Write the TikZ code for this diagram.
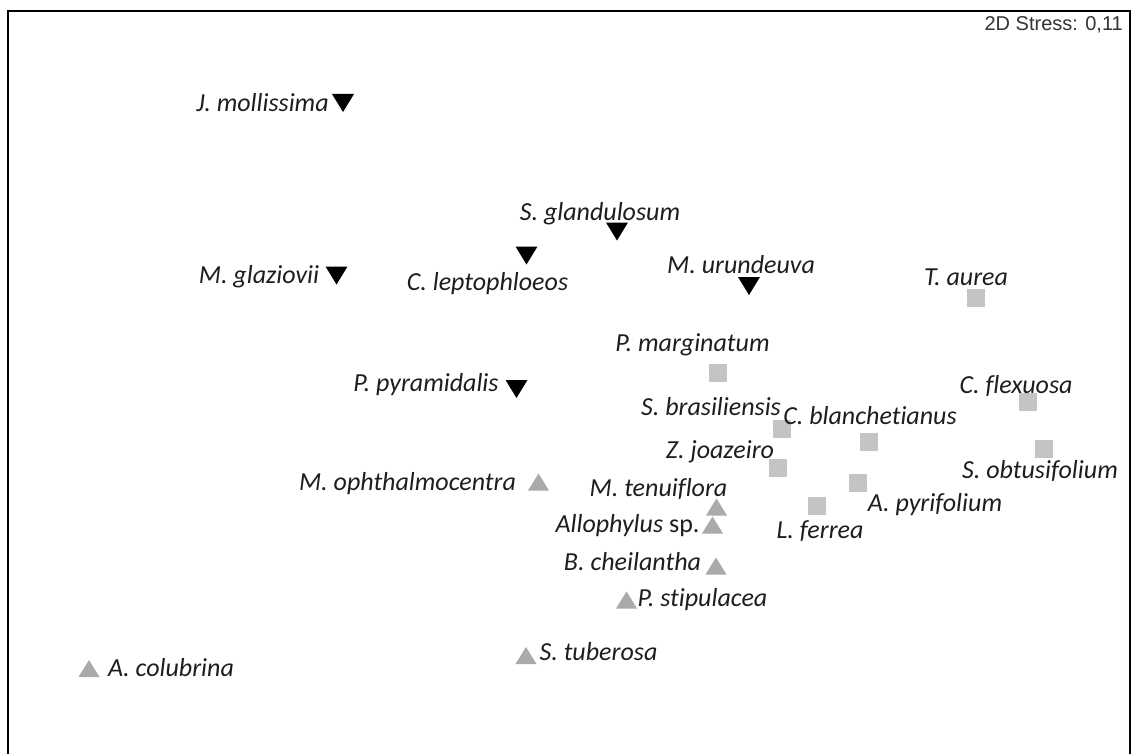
\documentclass[tikz,border=0pt]{standalone}
\usepackage{fontspec}
\setmainfont{Carlito}[Ligatures=NoCommon]
\newfontfamily\arialfont{Liberation Sans}
\definecolor{sqgray}{HTML}{C4C4C4}
\definecolor{trigray}{HTML}{AAAAAA}
\definecolor{txt}{HTML}{1E1E1E}
\begin{document}
\begin{tikzpicture}[x=1pt,y=-1pt,
  lab/.style={font=\fontsize{26}{30}\selectfont\itshape, text=txt, inner sep=0pt,
    text height=16.7pt, text depth=0pt, anchor=center},
  dtri/.pic={\fill[black] (-11,-9) -- (11,-9) -- (0,9) -- cycle;},
  utri/.pic={\fill[trigray] (-10.5,8.5) -- (10.5,8.5) -- (0,-8.5) -- cycle;},
  sq/.pic={\fill[sqgray] (-9,-9) rectangle (9,9);}
]
\useasboundingbox (0,0) rectangle (1134,754);
\fill[white] (0,0) rectangle (1134,754);
\draw[line width=2.3pt] (8,760) -- (8,11) -- (1130,11) -- (1130,760);

\node[inner sep=0pt, anchor=east, font=\arialfont\fontsize{20}{24}\selectfont, text=black!80] (stress) at (1123,25) {2D Stress: 0,11};

% black down triangles
\pic at (343,103) {dtri};
\pic at (617,231.5) {dtri};
\pic at (526.5,255.5) {dtri};
\pic at (336.5,275.5) {dtri};
\pic at (749,286) {dtri};
\pic at (516.5,389) {dtri};

% gray up triangles
\pic at (538.5,482) {utri};
\pic at (716.5,507) {utri};
\pic at (712.5,525) {utri};
\pic at (716,566) {utri};
\pic at (626.5,600) {utri};
\pic at (526,655.5) {utri};
\pic at (89,668.5) {utri};

% gray squares
\pic at (976,298) {sq};
\pic at (717.5,372.5) {sq};
\pic at (1027.5,402) {sq};
\pic at (782,429) {sq};
\pic at (869,441.5) {sq};
\pic at (1044,449) {sq};
\pic at (777.5,468) {sq};
\pic at (857.5,483) {sq};
\pic at (817,506) {sq};

% labels
\node[lab] (jmol) at (262.5,103) {J. mollissima};
\node[lab] (sgla) at (600,212) {S. glandulosum};
\node[lab] (clep) at (487.5,282) {C. leptophloeos};
\node[lab] (mgla) at (259,275) {M. glaziovii};
\node[lab] (muru) at (741,265) {M. urundeuva};
\node[lab] (taur) at (966,277) {T. aurea};
\node[lab] (pmar) at (692.5,343) {P. marginatum};
\node[lab] (ppyr) at (426,383) {P. pyramidalis};
\node[lab] (cfle) at (1016,385) {C. flexuosa};
\node[lab] (sbra) at (711,407) {S. brasiliensis};
\node[lab] (cbla) at (870,416) {C. blanchetianus};
\node[lab] (sobt) at (1040,470) {S. obtusifolium};
\node[lab] (zjoa) at (720,450) {Z. joazeiro};
\node[lab] (moph) at (407.5,482) {M. ophthalmocentra};
\node[lab] (apyr) at (935,503) {A. pyrifolium};
\node[lab] (mten) at (658.5,488) {M. tenuiflora};
\node[lab] (lfer) at (820,530) {L. ferrea};
\node[lab] (allo) at (627.5,524) {Allophylus \upshape sp.};
\node[lab] (bche) at (632.5,562) {B. cheilantha};
\node[lab] (pstI) at (702.5,598) {P. stipulacea};
\node[lab] (stub) at (598.5,652) {S. tuberosa};
\node[lab] (acol) at (171,668) {A. colubrina};
\end{tikzpicture}
\end{document}
